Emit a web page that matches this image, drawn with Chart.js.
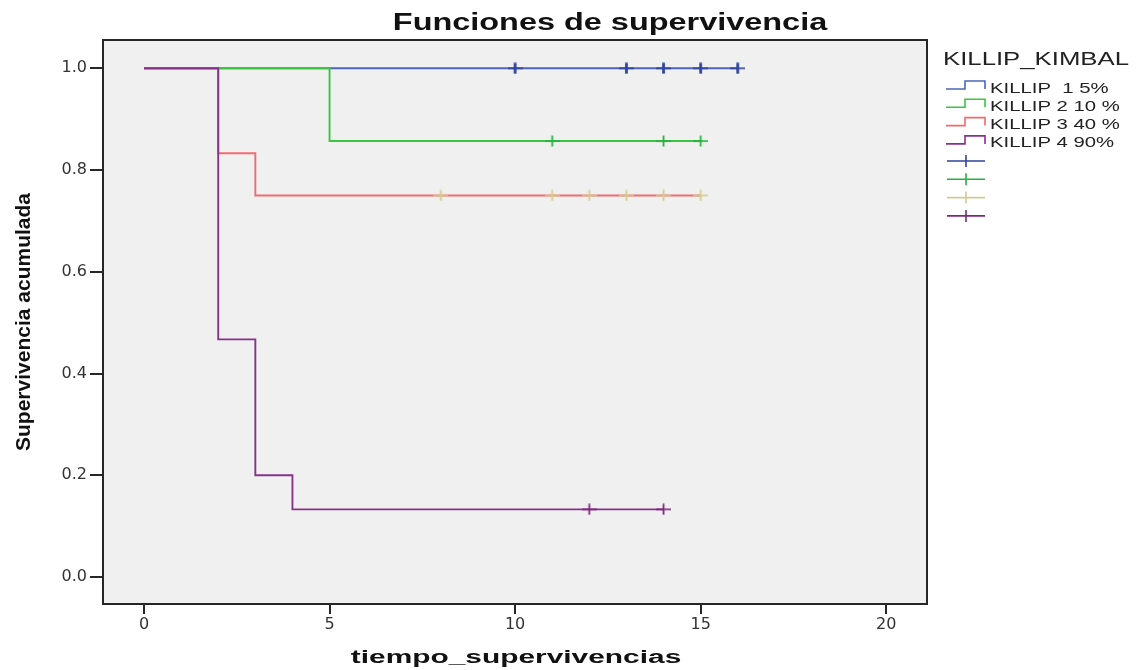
<!DOCTYPE html>
<html>
<head>
<meta charset="utf-8">
<title>Funciones de supervivencia</title>
<script src="https://cdn.jsdelivr.net/npm/chart.js@4.4.1/dist/chart.umd.min.js"></script>
<style>
  html, body { margin: 0; padding: 0; background: #ffffff; }
  #wrap { width: 1137px; height: 670px; }
</style>
</head>
<body>
<div id="wrap"><canvas id="km" width="1137" height="670"></canvas></div>
<script>
// Kaplan-Meier estimates per Killip-Kimbal class: event times and cumulative survival
const killip1Times = [0, 16];
const killip1Surv = [1.0, 1.0];
const killip1Censored = [10, 13, 14, 15, 16];

const killip2Times = [0, 5, 15];
const killip2Surv = [1.0, 0.857, 0.857];
const killip2Censored = [11, 14, 15];

const killip3Times = [0, 2, 3, 15];
const killip3Surv = [1.0, 0.833, 0.75, 0.75];
const killip3Censored = [8, 11, 12, 13, 14, 15];

const killip4Times = [0, 2, 3, 4, 14];
const killip4Surv = [1.0, 0.467, 0.2, 0.133, 0.133];
const killip4Censored = [12, 14];

const groupLabels = ['KILLIP  1 5%', 'KILLIP 2 10 %', 'KILLIP 3 40 %', 'KILLIP 4 90%'];
const legendTitle = 'KILLIP_KIMBAL';
const chartTitle = 'Funciones de supervivencia';
const xAxisTitle = 'tiempo_supervivencias';
const yAxisTitle = 'Supervivencia acumulada';

const xTickValues = [0, 5, 10, 15, 20];
const yTickValues = [0.0, 0.2, 0.4, 0.6, 0.8, 1.0];

// styling
const lineColors = ['#4d66bb', '#3cc445', '#f06a70', '#87338a'];
const censorColors = ['#2f449c', '#27b23e', '#d4cb92', '#7c287d'];

const groups = [
  { times: killip1Times, surv: killip1Surv, censored: killip1Censored },
  { times: killip2Times, surv: killip2Surv, censored: killip2Censored },
  { times: killip3Times, surv: killip3Surv, censored: killip3Censored },
  { times: killip4Times, surv: killip4Surv, censored: killip4Censored }
];

// survival value of a step function at time t
function survivalAt(times, surv, t) {
  let s = surv[0];
  for (let i = 0; i < times.length; i++) {
    if (times[i] <= t) s = surv[i];
  }
  return s;
}

// small "+" glyph used to mark censored cases
function censorGlyph(color, vWidth) {
  const c = document.createElement('canvas');
  c.width = 15; c.height = 12;
  const g = c.getContext('2d');
  g.strokeStyle = color;
  g.lineWidth = 1.6;
  g.beginPath(); g.moveTo(0, 6); g.lineTo(15, 6); g.stroke();
  g.lineWidth = vWidth;
  g.beginPath(); g.moveTo(7.5, 0.5); g.lineTo(7.5, 11.5); g.stroke();
  return c;
}

const datasets = [];
groups.forEach((g, i) => {
  datasets.push({
    type: 'line',
    label: groupLabels[i],
    data: g.times.map((t, k) => ({ x: t, y: g.surv[k] })),
    borderColor: lineColors[i],
    borderWidth: 1.9,
    stepped: 'before',
    pointRadius: 0,
    fill: false,
    order: 4 - i
  });
});
groups.forEach((g, i) => {
  datasets.push({
    type: 'scatter',
    label: groupLabels[i] + ' censurado',
    data: g.censored.map(t => ({ x: t, y: survivalAt(g.times, g.surv, t) })),
    pointStyle: censorGlyph(censorColors[i], i === 0 ? 2.8 : 1.8),
    pointRadius: 6,
    showLine: false,
    order: 0
  });
});

// draw text horizontally widened around its anchor
function wideText(ctx, text, x, y, font, sx, align, color) {
  ctx.save();
  ctx.font = font;
  ctx.fillStyle = color;
  ctx.textAlign = align;
  ctx.textBaseline = 'alphabetic';
  ctx.translate(x, y);
  ctx.scale(sx, 1);
  ctx.fillText(text, 0, 0);
  ctx.restore();
}

const panelPlugin = {
  id: 'panel',
  beforeDraw(chart) {
    const { ctx, chartArea: a } = chart;
    ctx.save();
    ctx.fillStyle = '#ffffff';
    ctx.fillRect(0, 0, chart.width, chart.height);
    ctx.fillStyle = '#f0f0f0';
    ctx.fillRect(a.left, a.top, a.right - a.left, a.bottom - a.top);
    ctx.restore();
  },
  afterDatasetsDraw(chart) {
    const { ctx, chartArea: a } = chart;
    ctx.save();
    ctx.strokeStyle = '#262626';
    ctx.lineWidth = 2;
    ctx.strokeRect(a.left, a.top, a.right - a.left, a.bottom - a.top);
    ctx.restore();
  },
  afterDraw(chart) {
    const ctx = chart.ctx;
    const a = chart.chartArea;
    // chart title
    wideText(ctx, chartTitle, 610, 30, 'bold 23px "Liberation Sans", Arial, sans-serif', 1.41, 'center', '#111111');
    // x axis title
    wideText(ctx, xAxisTitle, (a.left + a.right) / 2 + 1, 663, 'bold 18px "Liberation Sans", Arial, sans-serif', 1.66, 'center', '#111111');
    // y axis title
    ctx.save();
    ctx.translate(30, (a.top + a.bottom) / 2);
    ctx.rotate(-Math.PI / 2);
    ctx.font = 'bold 21px "Liberation Sans", Arial, sans-serif';
    ctx.fillStyle = '#111111';
    ctx.textAlign = 'center';
    ctx.textBaseline = 'alphabetic';
    ctx.fillText(yAxisTitle, 0, 0);
    ctx.restore();

    // legend
    wideText(ctx, legendTitle, 943, 65, '18px "Liberation Sans", Arial, sans-serif', 1.43, 'left', '#222222');
    const rowStep = 18.3;
    for (let i = 0; i < groupLabels.length; i++) {
      const y = 89 + i * rowStep;
      ctx.save();
      ctx.strokeStyle = lineColors[i];
      ctx.lineWidth = 1.6;
      ctx.beginPath();
      ctx.moveTo(946, y);
      ctx.lineTo(965, y);
      ctx.lineTo(965, y - 8);
      ctx.lineTo(985, y - 8);
      ctx.lineTo(985, y);
      ctx.stroke();
      ctx.restore();
      wideText(ctx, groupLabels[i], 990, y + 3.5, '14px "Liberation Sans", Arial, sans-serif', 1.45, 'left', '#222222');
    }
    for (let i = 0; i < censorColors.length; i++) {
      const y = 161 + i * rowStep;
      ctx.save();
      ctx.strokeStyle = censorColors[i];
      ctx.lineWidth = 1.6;
      ctx.beginPath();
      ctx.moveTo(947, y); ctx.lineTo(985, y);
      ctx.moveTo(966, y - 6); ctx.lineTo(966, y + 6);
      ctx.stroke();
      ctx.restore();
    }
  }
};

new Chart(document.getElementById('km'), {
  data: { datasets },
  options: {
    responsive: false,
    animation: false,
    devicePixelRatio: 1,
    layout: { padding: { left: 0, top: 40, right: 210, bottom: 0 } },
    plugins: {
      legend: { display: false },
      title: { display: false },
      tooltip: { enabled: false }
    },
    scales: {
      x: {
        type: 'linear',
        position: 'bottom',
        min: -1.105,
        max: 21.1,
        afterBuildTicks: s => { s.ticks = xTickValues.map(v => ({ value: v })); },
        afterFit: s => { s.height = 66; },
        ticks: {
          font: { family: '"DejaVu Sans", sans-serif', size: 16 },
          color: '#333333',
          padding: 1,
          maxRotation: 0,
          callback: v => String(v)
        },
        grid: { drawOnChartArea: false, drawTicks: true, tickLength: 10, color: '#262626', lineWidth: 2 },
        border: { display: false },
        title: { display: false }
      },
      y: {
        type: 'linear',
        min: -0.0531,
        max: 1.0556,
        afterBuildTicks: s => { s.ticks = yTickValues.map(v => ({ value: v })); },
        afterFit: s => { s.width = 103; },
        ticks: {
          font: { family: '"DejaVu Sans", sans-serif', size: 16 },
          color: '#333333',
          padding: 3,
          callback: v => Number(v).toFixed(1)
        },
        grid: { drawOnChartArea: false, drawTicks: true, tickLength: 13, color: '#262626', lineWidth: 2 },
        border: { display: false },
        title: { display: false }
      }
    }
  },
  plugins: [panelPlugin]
});
</script>
</body>
</html>
